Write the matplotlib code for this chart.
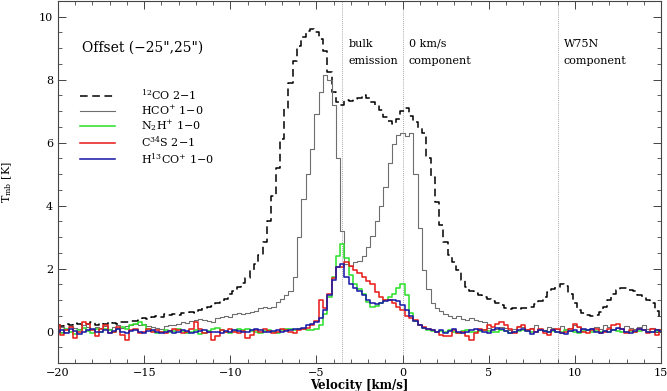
import matplotlib

matplotlib.use("Agg")
import matplotlib.pyplot as plt
import numpy as np

plt.rcParams["font.family"] = "DejaVu Serif"
plt.rcParams["mathtext.fontset"] = "dejavuserif"

# --- channel grid (km/s) ---
V_START = -20.0
CHAN = 0.25

# --- spectra, one value per channel ---
co12 = [
    # -20.0 .. -16.0
    0.22, 0.18, 0.25, 0.20, 0.28, 0.24, 0.20, 0.26, 0.30, 0.22, 0.27, 0.25, 0.30, 0.28, 0.24, 0.30, 0.32,
    # -15.75 .. -8.0
    0.35, 0.33, 0.38, 0.42, 0.40, 0.47, 0.50, 0.46, 0.55, 0.52, 0.56, 0.54, 0.58, 0.60, 0.63, 0.60,
    0.70, 0.75, 0.80, 0.82, 0.90, 0.95, 1.05, 1.20, 1.30, 1.42, 1.55, 1.72, 1.95, 2.15, 2.45, 2.85,
    # -7.75 .. 0.0
    3.50, 4.30, 5.20, 6.10, 7.10, 7.90, 8.60, 9.05, 9.35, 9.55, 9.60, 9.50, 9.30, 8.90, 8.25, 7.60,
    7.30, 7.20, 7.35, 7.32, 7.38, 7.40, 7.50, 7.42, 7.30, 7.20, 7.05, 6.80, 6.70, 6.60, 6.75, 7.00,
    # 0.25 .. 8.0
    7.10, 6.85, 6.65, 6.45, 6.30, 5.50, 4.90, 4.10, 3.40, 2.85, 2.45, 2.20, 1.95, 1.65, 1.42, 1.30,
    1.22, 1.15, 1.10, 1.05, 0.98, 0.92, 0.85, 0.75, 0.72, 0.74, 0.72, 0.76, 0.74, 0.80, 0.88, 0.98,
    # 8.25 .. 15.0
    1.10, 1.25, 1.35, 1.42, 1.52, 1.45, 1.20, 0.90, 0.68, 0.58, 0.52, 0.50, 0.52, 0.62, 0.78, 1.00,
    1.20, 1.32, 1.38, 1.40, 1.33, 1.28, 1.18, 1.10, 1.00, 0.90, 0.65, 0.45,
]

hco = [
    # -20.0 .. -16.0
    0.10, 0.15, 0.08, 0.18, 0.12, 0.10, 0.20, 0.14, 0.08, 0.16, 0.12, 0.18, 0.10, 0.15, 0.20, 0.12, 0.18,
    # -15.75 .. -8.0
    0.22, 0.25, 0.20, 0.24, 0.18, 0.15, 0.12, 0.10, 0.18, 0.22, 0.20, 0.26, 0.30, 0.28, 0.33, 0.36,
    0.40, 0.38, 0.35, 0.30, 0.42, 0.46, 0.50, 0.48, 0.55, 0.58, 0.55, 0.60, 0.62, 0.66, 0.75, 0.78,
    # -7.75 .. 0.0
    0.76, 0.80, 0.95, 1.05, 1.15, 1.30, 1.75, 3.00, 4.20, 5.00, 5.80, 6.90, 7.60, 8.15, 8.00, 7.20,
    5.50, 3.20, 2.15, 2.10, 2.20, 2.25, 2.40, 2.70, 3.05, 3.50, 4.00, 4.60, 5.35, 5.95, 6.25, 6.30,
    # 0.25 .. 5.0
    6.20, 6.30, 5.00, 3.30, 1.95, 1.35, 0.90, 0.75, 0.65, 0.55, 0.50, 0.45, 0.50, 0.40, 0.38, 0.42,
    0.36, 0.35, 0.32, 0.12,
    # 5.25 .. 15.0
    0.10, 0.08, 0.15, 0.12, 0.05, 0.10, 0.18, 0.14, 0.08, 0.12, 0.20, 0.10, 0.06, 0.15, 0.12, 0.10,
    0.18, 0.08, 0.12, 0.20, 0.14, 0.10, 0.05, 0.12, 0.16, 0.10, 0.22, 0.15, 0.08, 0.12, 0.10, 0.18,
    0.12, 0.08, 0.15, 0.20, 0.10, 0.12, 0.08, 0.10,
]

n2h = [
    # -20.0 .. -16.0
    0.05, -0.05, 0.10, 0.00, -0.08, 0.05, 0.12, 0.02, -0.05, 0.08, 0.00, 0.10, 0.05, -0.02, 0.08, 0.15, 0.10,
    # -15.75 .. -8.0
    0.20, 0.25, 0.30, 0.22, 0.10, 0.02, -0.05, 0.00, 0.05, -0.02, 0.03, 0.08, 0.02, -0.05, 0.00, 0.05,
    -0.08, -0.05, 0.02, 0.08, 0.12, 0.05, 0.00, -0.05, 0.02, 0.08, 0.05, 0.10, 0.03, -0.02, -0.05, 0.02,
    # -7.75 .. 0.0
    0.06, 0.00, -0.03, 0.05, 0.08, 0.10, 0.05, 0.08, 0.10, 0.06, 0.05, 0.10, 0.22, 0.55, 1.10, 1.75,
    2.40, 2.78, 2.35, 1.80, 1.50, 1.35, 1.20, 0.95, 0.80, 0.82, 0.90, 1.00, 1.10, 1.20, 1.38, 1.50,
    # 0.25 .. 1.75
    1.15, 0.60, 0.35, 0.20, 0.12, 0.05, 0.02,
    # 2.0 .. 15.0
    0.00, 0.03, -0.02, 0.05, 0.00, -0.03, 0.02, 0.04, 0.00, -0.02, 0.03, 0.05, 0.02, -0.01, 0.00, 0.04,
    0.02, -0.03, 0.00, 0.03, 0.05, 0.02, 0.00, -0.02, 0.04, 0.02, 0.00, 0.03, -0.02, 0.00, 0.05, 0.02,
    0.00, -0.03, 0.02, 0.04, 0.00, 0.02, -0.02, 0.03, 0.00, 0.05, 0.02, 0.00, -0.02, 0.03, 0.00, 0.02,
    0.04, 0.00, -0.02, 0.03, 0.02,
]

c34s = [
    # -20.0 .. -16.0
    0.20, -0.10, 0.05, 0.15, -0.20, 0.00, 0.30, 0.25, 0.05, -0.15, 0.10, 0.20, -0.05, 0.00, 0.15, -0.10, -0.25,
    # -15.75 .. -8.0
    0.05, 0.10, -0.05, 0.00, 0.08, -0.02, 0.05, 0.00, -0.05, 0.02, 0.10, 0.05, -0.03, 0.00, 0.08, 0.30,
    0.10, -0.05, 0.00, -0.25, -0.15, 0.05, 0.00, 0.08, 0.00, -0.05, 0.02, -0.20, -0.10, 0.05, 0.00, 0.10,
    # -7.75 .. 0.0
    0.02, -0.05, 0.00, 0.08, 0.05, 0.00, -0.05, 0.05, 0.10, 0.12, 0.20, 0.35, 1.00, 0.75, 1.20, 1.70,
    2.05, 2.05, 2.20, 2.10, 1.95, 1.85, 1.75, 1.60, 1.50, 1.25, 1.10, 1.00, 1.02, 0.92, 0.80, 0.68,
    # 0.25 .. 1.75
    0.50, 0.45, 0.38, 0.20, 0.15, 0.08, 0.05,
    # 2.0 .. 15.0
    0.00, -0.10, -0.15, -0.12, 0.05, -0.05, 0.00, -0.15, -0.25, -0.05, 0.10, 0.05,
    0.20, 0.15, 0.25, 0.32, 0.20, 0.10, -0.05, 0.15, 0.20, 0.05, 0.10, 0.00,
    0.08, -0.05, -0.10, 0.05, 0.10, -0.05, 0.00, 0.10, 0.25, 0.15, 0.00, -0.05,
    0.05, 0.10, -0.05, 0.00, 0.08, 0.20, 0.25, 0.10, -0.05, 0.05, 0.00, 0.10,
    0.05, -0.05, 0.10, -0.10, 0.05,
]

h13co = [
    # -20.0 .. -16.0
    0.00, 0.05, -0.05, 0.10, 0.02, -0.08, 0.00, 0.05, 0.10, -0.02, 0.00, 0.05, -0.05, 0.02, 0.08, 0.00, -0.03,
    # -15.75 .. -8.0
    0.02, 0.05, 0.00, -0.05, 0.02, 0.05, -0.02, -0.05, 0.00, 0.03, -0.03, 0.00, 0.05, 0.02, -0.05, 0.00,
    0.03, 0.05, 0.00, -0.02, 0.00, -0.05, 0.02, 0.00, 0.05, 0.02, -0.02, 0.00, 0.05, 0.10, 0.05, 0.00,
    # -7.75 .. 0.0
    -0.02, 0.02, 0.05, 0.00, 0.03, 0.05, 0.08, 0.10, 0.12, 0.20, 0.25, 0.30, 0.45, 0.70, 1.15, 1.65,
    2.05, 2.15, 1.75, 1.50, 1.40, 1.30, 1.15, 1.00, 0.90, 0.88, 0.92, 0.98, 1.02, 1.00, 0.98, 0.85,
    # 0.25 .. 1.75
    0.68, 0.50, 0.35, 0.22, 0.12, 0.08, 0.05,
    # 2.0 .. 15.0
    0.00, 0.05, -0.05, 0.02, 0.08, 0.00, -0.05, -0.02, 0.05, 0.10,
    0.05, 0.00, -0.03, 0.05, 0.12, 0.08, 0.02, -0.05, 0.00, 0.05,
    0.10, 0.02, -0.08, 0.00, 0.05, 0.02, -0.02, 0.05, 0.00, -0.05,
    -0.08, 0.02, 0.05, 0.00, 0.08, 0.05, 0.10, 0.00, -0.05, 0.02,
    0.00, 0.05, 0.12, 0.08, 0.00, -0.05, 0.02, 0.08, 0.05, -0.02,
    0.00, 0.05, 0.02,
]

labels = [
    r"$^{12}$CO 2$-$1",
    r"HCO$^{+}$ 1$-$0",
    r"N$_{2}$H$^{+}$ 1$-$0",
    r"C$^{34}$S 2$-$1",
    r"H$^{13}$CO$^{+}$ 1$-$0",
]

# marked velocities and their captions
markers_v = [-3.5, 0.0, 9.0]
captions = ["bulk\nemission", "0 km/s\ncomponent", "W75N\ncomponent"]


def velocities(spec):
    return V_START + CHAN * np.arange(len(spec))


fig = plt.figure(figsize=(6.67, 3.91), dpi=100)
ax = fig.add_axes([0.087, 0.071, 0.904, 0.927])

styles = [
    dict(color="black", lw=1.1, linestyle=(0, (5, 3))),
    dict(color="#6e6e6e", lw=0.8),
    dict(color="#2fe02f", lw=1.15),
    dict(color="#e8201e", lw=1.15),
    dict(color="#1c1ca8", lw=1.15),
]
for spec, lab, st in zip([co12, hco, n2h, c34s, h13co], labels, styles):
    ax.plot(velocities(spec), spec, drawstyle="steps-mid", label=lab, **st)

for vm, cap in zip(markers_v, captions):
    ax.axvline(vm, color="#8a8a8a", lw=0.6, linestyle=(0, (1, 1.5)), zorder=0)
    ax.text(vm + 0.35, 9.3, cap, fontsize=8, va="top", ha="left", linespacing=1.9)

ax.text(-18.6, 9.0, "Offset (\u221225\",25\")", fontsize=10, va="center", ha="left")

leg = ax.legend(
    loc="upper left",
    bbox_to_anchor=(0.028, 0.776),
    frameon=False,
    borderpad=0,
    fontsize=8,
    handlelength=3.15,
    handletextpad=2.3,
    labelspacing=0.14,
)

ax.set_xlim(-20, 15)
ax.set_ylim(-1, 10.5)
ax.xaxis.set_major_locator(matplotlib.ticker.MultipleLocator(5))
ax.xaxis.set_minor_locator(matplotlib.ticker.MultipleLocator(1))
ax.yaxis.set_major_locator(matplotlib.ticker.MultipleLocator(2))
ax.yaxis.set_minor_locator(matplotlib.ticker.MultipleLocator(0.5))
ax.tick_params(which="both", direction="in", top=True, right=True, labelsize=8, color="#444444")
ax.tick_params(which="major", length=6, width=0.7)
ax.tick_params(which="minor", length=3, width=0.6)
for sp in ax.spines.values():
    sp.set_linewidth(0.8)
    sp.set_color("#444444")

ax.set_xlabel("Velocity [km/s]", fontsize=8.5, fontweight="bold", labelpad=1)
ax.set_ylabel(r"T$_{\rm mb}$ [K]", fontsize=8, labelpad=18)

fig.savefig("out.png", dpi=100)
